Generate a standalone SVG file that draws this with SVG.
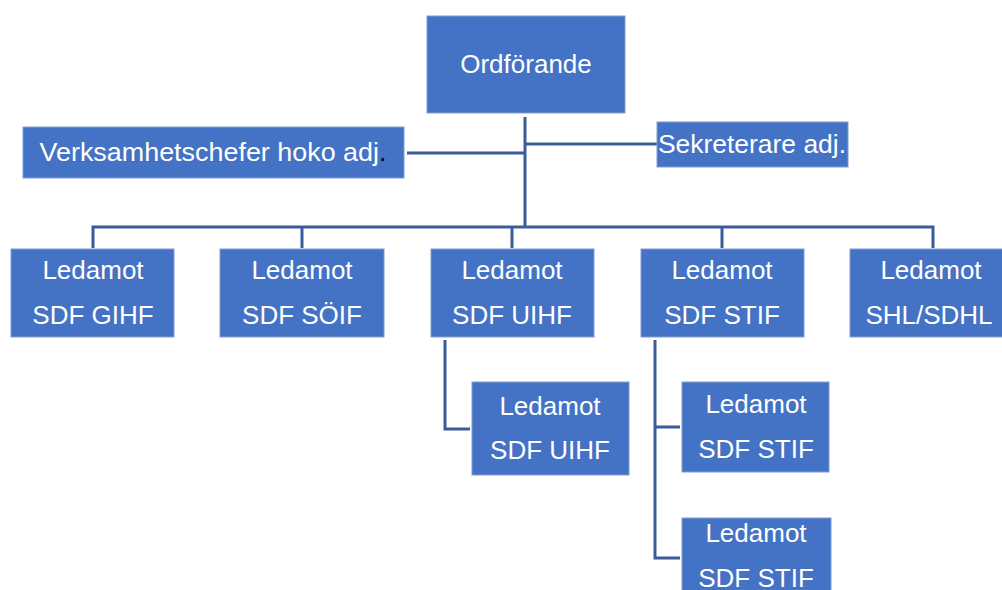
<svg xmlns="http://www.w3.org/2000/svg" width="1002" height="590" viewBox="0 0 1002 590">
<style>
.box{fill:#4472C4;stroke:#7F9CD6;stroke-width:1}
.t{font-family:"Liberation Sans",Arial,sans-serif;font-size:26px;fill:#ffffff;text-anchor:middle}
.c{fill:none;stroke:#3A5C9B;stroke-width:3}
</style>
<rect width="1002" height="590" fill="#ffffff"/>
<g id="connectors">
<path class="c" d="M525,117 V228"/>
<path class="c" d="M407,153 H525"/>
<path class="c" d="M525,144 H657"/>
<path class="c" d="M93,248 V227 H933 V248"/>
<path class="c" d="M302,227 V248"/>
<path class="c" d="M512,227 V248"/>
<path class="c" d="M722,227 V248"/>
<path class="c" d="M445,340 V429 H470"/>
<path class="c" d="M655,340 V558 H680"/>
<path class="c" d="M655,427 H680"/>
</g>
<g id="ordforande">
<rect class="box" x="427" y="16" width="198" height="97"/>
<text class="t" x="526" y="73">Ordförande</text>
</g>
<g id="verksamhetschefer">
<rect class="box" x="23" y="127" width="381" height="51"/>
<text class="t" x="213" y="161" textLength="347" lengthAdjust="spacingAndGlyphs">Verksamhetschefer hoko adj<tspan fill="#000000">.</tspan></text>
</g>
<g id="sekreterare">
<rect class="box" x="657" y="122" width="191" height="45"/>
<text class="t" x="752" y="153" textLength="188" lengthAdjust="spacingAndGlyphs">Sekreterare adj.</text>
</g>
<g id="gihf">
<rect class="box" x="11" y="249" width="163" height="88"/>
<text class="t" x="93" y="279">Ledamot</text>
<text class="t" x="93" y="324">SDF GIHF</text>
</g>
<g id="soif">
<rect class="box" x="220" y="249" width="164" height="88"/>
<text class="t" x="302" y="279">Ledamot</text>
<text class="t" x="302" y="324">SDF SÖIF</text>
</g>
<g id="uihf">
<rect class="box" x="431" y="249" width="163" height="88"/>
<text class="t" x="512" y="279">Ledamot</text>
<text class="t" x="512" y="324">SDF UIHF</text>
</g>
<g id="stif">
<rect class="box" x="641" y="249" width="163" height="88"/>
<text class="t" x="722" y="279">Ledamot</text>
<text class="t" x="722" y="324">SDF STIF</text>
</g>
<g id="shl">
<rect class="box" x="850" y="249" width="163" height="88"/>
<text class="t" x="931" y="279">Ledamot</text>
<text class="t" x="929" y="324">SHL/SDHL</text>
</g>
<g id="uihf2">
<rect class="box" x="472" y="382" width="157" height="93"/>
<text class="t" x="550" y="415">Ledamot</text>
<text class="t" x="550" y="459">SDF UIHF</text>
</g>
<g id="stif2">
<rect class="box" x="682" y="382" width="147" height="90"/>
<text class="t" x="756" y="413">Ledamot</text>
<text class="t" x="756" y="458">SDF STIF</text>
</g>
<g id="stif3">
<rect class="box" x="682" y="518" width="149" height="80"/>
<text class="t" x="756" y="542">Ledamot</text>
<text class="t" x="756" y="587">SDF STIF</text>
</g>
</svg>
